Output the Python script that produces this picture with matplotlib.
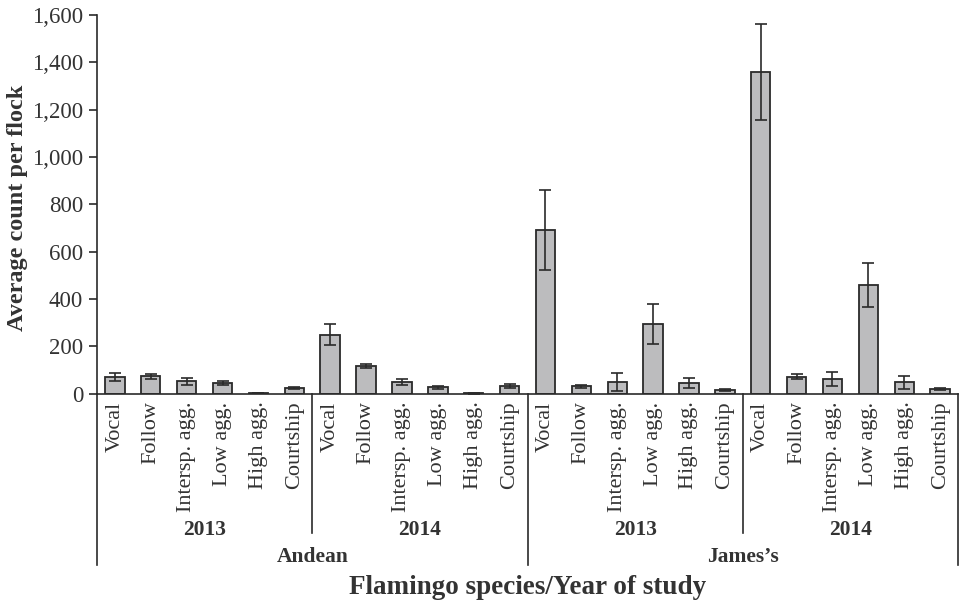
import numpy as np
import matplotlib.pyplot as plt
from matplotlib.ticker import FuncFormatter

plt.rcParams['font.family'] = ['Liberation Serif', 'DejaVu Serif']

behaviours = ['Vocal', 'Follow', 'Intersp. agg.', 'Low agg.', 'High agg.', 'Courtship']
years = ['2013', '2014']
species = ['Andean', 'James\u2019s']

# mean counts per flock, one list per species/year
andean_2013 = [73, 74, 52, 45, 4, 23]
andean_2014 = [250, 116, 50, 27, 2, 33]
james_2013 = [692, 32, 48, 295, 45, 17]
james_2014 = [1360, 73, 61, 460, 48, 21]

andean_2013_err = [17, 10, 14, 7, 1, 4]
andean_2014_err = [43, 9, 12, 5, 1, 7]
james_2013_err = [168, 7, 38, 85, 20, 4]
james_2014_err = [202, 9, 30, 93, 26, 5]

means = andean_2013 + andean_2014 + james_2013 + james_2014
errs = andean_2013_err + andean_2014_err + james_2013_err + james_2014_err
x = np.arange(len(means))

fig = plt.figure(figsize=(9.6, 6.04), dpi=100)
ax = fig.add_axes([0.101, 0.348, 0.897, 0.627])

ax.bar(x, means, width=0.54, color='#bcbcbe', edgecolor='#2a2a2a', linewidth=1.3,
       yerr=errs, error_kw=dict(ecolor='#2a2a2a', elinewidth=1.2, capsize=4, capthick=1.2))

ax.set_xlim(-0.5, len(means) - 0.5)
ax.set_ylim(0, 1600)
ax.set_yticks(np.arange(0, 1601, 200))
ax.yaxis.set_major_formatter(FuncFormatter(lambda v, p: '{:,.0f}'.format(v)))
ax.tick_params(axis='y', direction='out', length=6, width=1.2, labelsize=16.5,
               colors='#2a2a2a', labelcolor='#333333', pad=4)
ax.set_xticks([])
for s in ['top', 'right']:
    ax.spines[s].set_visible(False)
ax.spines['left'].set_linewidth(1.2)
ax.spines['bottom'].set_linewidth(1.2)
ax.spines['left'].set_color('#2a2a2a')
ax.spines['bottom'].set_color('#2a2a2a')

tr = ax.get_xaxis_transform()

# behaviour names under each bar
for i in range(len(means)):
    ax.text(i, -0.02, behaviours[i % 6], transform=tr, rotation=90, ha='center', va='top',
            fontsize=16, color='#333333')

# year labels and separators
for g in range(4):
    ax.text(g * 6 + 2.5, -0.36, years[g % 2], transform=tr, ha='center', va='center',
            fontsize=15.5, fontweight='bold', color='#333333')
for xs in [5.5, 17.5]:
    ax.plot([xs, xs], [0, -0.367], transform=tr, color='#2a2a2a', lw=1.2, clip_on=False)

# species labels and separators
for k in range(2):
    ax.text(k * 12 + 5.5, -0.43, species[k], transform=tr, ha='center', va='center',
            fontsize=15.5, fontweight='bold', color='#333333')
for xs in [-0.5, 11.5, 23.5]:
    ax.plot([xs, xs], [0, -0.452], transform=tr, color='#2a2a2a', lw=1.2, clip_on=False)

fig.text(0.55, 1 - 588 / 604, 'Flamingo species/Year of study', ha='center', va='center',
         fontsize=19.5, fontweight='bold', color='#333333')
fig.text(18 / 960, 1 - 208 / 604, 'Average count per flock', rotation=90, ha='center',
         va='center', fontsize=17.5, fontweight='bold', color='#333333')

fig.savefig('out.png', dpi=100)
